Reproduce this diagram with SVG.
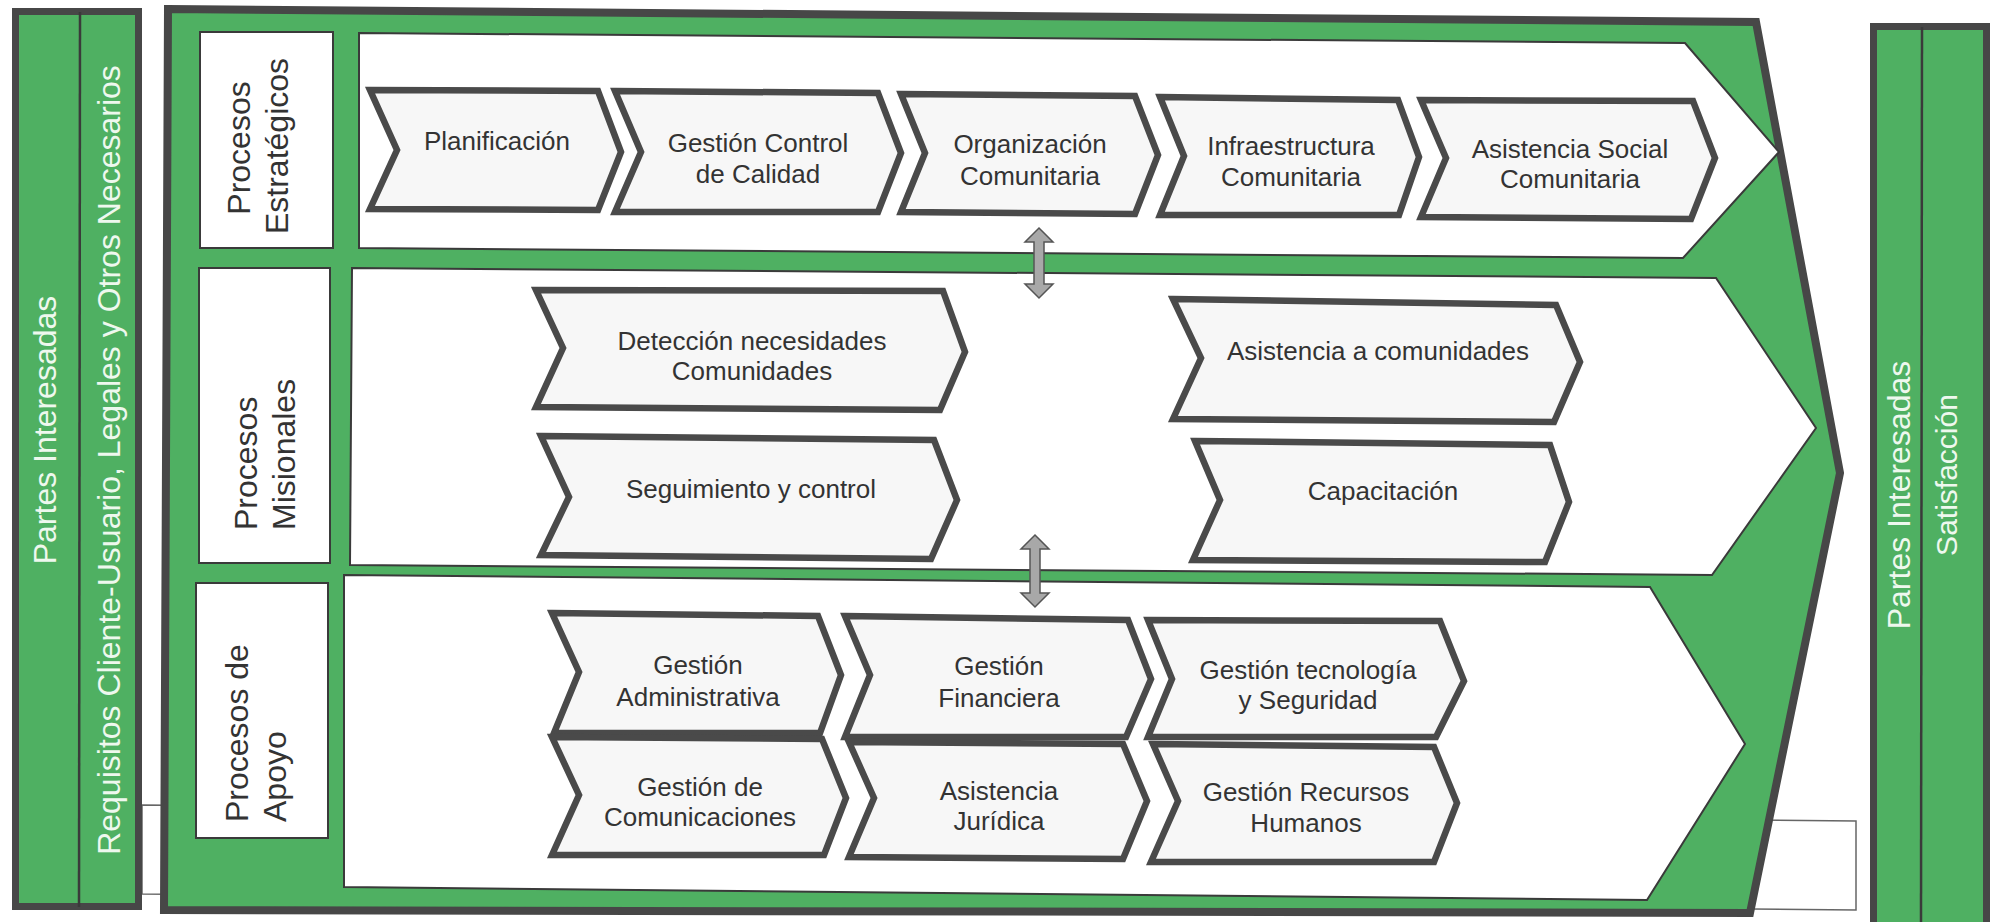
<svg xmlns="http://www.w3.org/2000/svg" width="1998" height="922" viewBox="0 0 1998 922">
<style>
.bg{fill:#ffffff}
.bar{fill:#4fb062;stroke:#474747;stroke-width:7}
.div{stroke:#3a3a3a;stroke-width:2.5;fill:none}
.frame{fill:#4fb062;stroke:#474747;stroke-width:8;stroke-linejoin:miter}
.lane{fill:#ffffff;stroke:#3a3a3a;stroke-width:2}
.box{fill:#ffffff;stroke:#3a3a3a;stroke-width:2}
.chev{fill:#f7f7f7;stroke:#4a4a4a;stroke-width:6.5;stroke-linejoin:miter}
.ghost{fill:none;stroke:#666666;stroke-width:1.5}
.dbl{fill:#a8a8a8;stroke:#555555;stroke-width:1.5;stroke-linejoin:miter}
.t{font-family:"Liberation Sans",Arial,sans-serif;font-size:26px;fill:#333333;text-anchor:middle}
.v{font-family:"Liberation Sans",Arial,sans-serif;font-size:32px;fill:#333333}
.w{font-family:"Liberation Sans",Arial,sans-serif;font-size:32px;fill:#eef8ee;text-anchor:middle}
</style>
<rect class="bg" x="0" y="0" width="1998" height="922"/>
<polygon class="ghost" points="142,805 1856,821 1856,910 142,894"/>

<g id="entrada">
<rect class="bar" x="15.5" y="11.5" width="123" height="895"/>
<line class="div" x1="80" y1="12" x2="79" y2="907"/>
<text class="w" transform="translate(56,430) rotate(-90)">Partes Interesadas</text>
<text class="w" transform="translate(120,460) rotate(-90)">Requisitos Cliente-Usuario, Legales y Otros Necesarios</text>
</g>

<g id="salida">
<rect class="bar" x="1873.5" y="26.5" width="113" height="910"/>
<line class="div" x1="1922" y1="27" x2="1921" y2="930"/>
<text class="w" transform="translate(1910,495) rotate(-90)">Partes Interesadas</text>
<text class="w" style="font-size:30px" transform="translate(1957,475) rotate(-90)">Satisfacción</text>
</g>

<g id="mapa">
<polygon class="frame" points="168,9 1756,22 1840,473 1750,913 164,910"/>
</g>

<g id="estrategicos">
<polygon class="lane" points="359,33 1685,43 1779,152 1683,258 359,248"/>
<rect class="box" x="200" y="32" width="133" height="216"/>
<text class="v" text-anchor="middle" transform="translate(250,148) rotate(-90)">Procesos</text>
<text class="v" text-anchor="middle" transform="translate(288,146) rotate(-90)">Estratégicos</text>
</g>

<g id="misionales">
<polygon class="lane" points="352,268 1716,278 1816,428 1712,575 350,565"/>
<rect class="box" x="199" y="268" width="131" height="295"/>
<text class="v" transform="translate(257,530) rotate(-90)">Procesos</text>
<text class="v" transform="translate(295,530) rotate(-90)">Misionales</text>
</g>

<g id="apoyo">
<polygon class="lane" points="344,575 1650,587 1745,744 1647,900 344,887"/>
<rect class="box" x="196" y="583" width="132" height="255"/>
<text class="v" transform="translate(248,822) rotate(-90)">Procesos de</text>
<text class="v" transform="translate(286,822) rotate(-90)">Apoyo</text>
</g>

<g id="planificacion">
<polygon class="chev" points="370,90 598,91 621,152 598,210 370,209 397,150"/>
<text class="t" x="497" y="150">Planificación</text>
</g>
<g id="gestion-control-calidad">
<polygon class="chev" points="615,91 878,93 901,153 878,212 615,212 641,152"/>
<text class="t" x="758" y="152">Gestión Control</text>
<text class="t" x="758" y="183">de Calidad</text>
</g>
<g id="organizacion-comunitaria">
<polygon class="chev" points="901,94 1135,96 1158,155 1135,214 901,212 925,153"/>
<text class="t" x="1030" y="153">Organización</text>
<text class="t" x="1030" y="185">Comunitaria</text>
</g>
<g id="infraestructura-comunitaria">
<polygon class="chev" points="1160,97 1398,100 1419,157 1399,215 1160,215 1184,156"/>
<text class="t" x="1291" y="155">Infraestructura</text>
<text class="t" x="1291" y="186">Comunitaria</text>
</g>
<g id="asistencia-social">
<polygon class="chev" points="1421,100 1693,101 1715,158 1691,219 1421,217 1446,158"/>
<text class="t" x="1570" y="158">Asistencia Social</text>
<text class="t" x="1570" y="188">Comunitaria</text>
</g>

<g id="deteccion-necesidades">
<polygon class="chev" points="536,290 943,291 965,352 940,410 536,407 563,348"/>
<text class="t" x="752" y="350">Detección necesidades</text>
<text class="t" x="752" y="380">Comunidades</text>
</g>
<g id="seguimiento-control">
<polygon class="chev" points="541,436 934,440 957,500 931,559 541,555 569,497"/>
<text class="t" x="751" y="498">Seguimiento y control</text>
</g>
<g id="asistencia-comunidades">
<polygon class="chev" points="1173,299 1556,305 1580,362 1554,422 1173,419 1201,358"/>
<text class="t" x="1378" y="360">Asistencia a comunidades</text>
</g>
<g id="capacitacion">
<polygon class="chev" points="1195,441 1550,445 1569,502 1545,562 1193,560 1220,500"/>
<text class="t" x="1383" y="500">Capacitación</text>
</g>

<g id="gestion-administrativa">
<polygon class="chev" points="552,613 818,616 841,675 820,733 554,733 579,672"/>
<text class="t" x="698" y="674">Gestión</text>
<text class="t" x="698" y="706">Administrativa</text>
</g>
<g id="gestion-comunicaciones">
<polygon class="chev" points="552,737 822,739 846,798 824,855 552,855 579,795"/>
<text class="t" x="700" y="796">Gestión de</text>
<text class="t" x="700" y="826">Comunicaciones</text>
</g>
<g id="gestion-financiera">
<polygon class="chev" points="845,616 1128,620 1151,679 1126,737 845,737 870,675"/>
<text class="t" x="999" y="675">Gestión</text>
<text class="t" x="999" y="707">Financiera</text>
</g>
<g id="asistencia-juridica">
<polygon class="chev" points="849,742 1123,744 1147,801 1123,859 849,857 874,798"/>
<text class="t" x="999" y="800">Asistencia</text>
<text class="t" x="999" y="830">Jurídica</text>
</g>
<g id="gestion-tecnologia">
<polygon class="chev" points="1148,620 1440,621 1464,681 1436,737 1148,737 1172,679"/>
<text class="t" x="1308" y="679">Gestión tecnología</text>
<text class="t" x="1308" y="709">y Seguridad</text>
</g>
<g id="gestion-recursos-humanos">
<polygon class="chev" points="1153,744 1434,747 1457,803 1434,862 1151,862 1178,801"/>
<text class="t" x="1306" y="801">Gestión Recursos</text>
<text class="t" x="1306" y="832">Humanos</text>
</g>

<g id="connectors">
<polygon class="dbl" points="1039,228 1053,242 1044,242 1044,284 1053,284 1039,298 1025,284 1034,284 1034,242 1025,242"/>
<polygon class="dbl" points="1035,535 1049,549 1040,549 1040,593 1049,593 1035,607 1021,593 1030,593 1030,549 1021,549"/>
</g>
</svg>
